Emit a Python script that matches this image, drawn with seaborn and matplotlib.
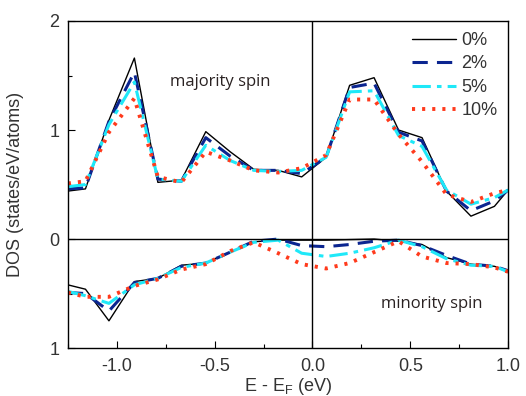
import matplotlib
matplotlib.use("Agg")
import matplotlib.pyplot as plt
from matplotlib.ticker import MultipleLocator, FuncFormatter
import pandas as pd
import seaborn as sns

sns.set_theme(style="white")
plt.rcParams["font.family"] = ["Liberation Sans", "DejaVu Sans"]
plt.rcParams["mathtext.fontset"] = "custom"
plt.rcParams["mathtext.rm"] = "Liberation Sans"

# energy grid (eV, relative to E_F)
energy = [-1.25, -1.16, -1.04, -0.91, -0.79, -0.67, -0.545, -0.42, -0.30, -0.175,
          -0.055, 0.07, 0.19, 0.315, 0.44, 0.56, 0.685, 0.81, 0.93, 1.0]

labels = ["0%", "2%", "5%", "10%"]

# majority spin DOS
up_0 = [0.44, 0.46, 1.09, 1.66, 0.52, 0.54, 0.985, 0.80, 0.64, 0.63,
        0.57, 0.75, 1.41, 1.48, 1.00, 0.93, 0.44, 0.21, 0.30, 0.45]
up_2 = [0.46, 0.47, 1.08, 1.53, 0.55, 0.53, 0.93, 0.76, 0.63, 0.63,
        0.60, 0.75, 1.39, 1.43, 0.98, 0.90, 0.44, 0.26, 0.35, 0.45]
up_5 = [0.48, 0.50, 1.05, 1.44, 0.55, 0.53, 0.86, 0.72, 0.63, 0.62,
        0.63, 0.75, 1.35, 1.36, 0.95, 0.85, 0.45, 0.32, 0.38, 0.45]
up_10 = [0.51, 0.53, 0.98, 1.29, 0.57, 0.52, 0.80, 0.72, 0.63, 0.61,
         0.65, 0.77, 1.28, 1.28, 0.96, 0.71, 0.41, 0.34, 0.42, 0.45]

# minority spin DOS (plotted downward)
dn_0 = [-0.42, -0.46, -0.75, -0.39, -0.36, -0.24, -0.22, -0.12, -0.025, -0.01,
        -0.01, -0.01, -0.005, 0.0, -0.02, -0.05, -0.17, -0.23, -0.25, -0.29]
dn_2 = [-0.49, -0.50, -0.66, -0.40, -0.36, -0.25, -0.22, -0.12, -0.02, 0.0,
        -0.06, -0.07, -0.05, -0.02, -0.01, -0.06, -0.15, -0.23, -0.25, -0.29]
dn_5 = [-0.48, -0.52, -0.59, -0.42, -0.36, -0.26, -0.22, -0.12, -0.03, -0.01,
        -0.13, -0.16, -0.13, -0.08, -0.01, -0.07, -0.18, -0.24, -0.25, -0.30]
dn_10 = [-0.49, -0.53, -0.53, -0.43, -0.37, -0.28, -0.23, -0.11, -0.03, -0.13,
         -0.23, -0.27, -0.22, -0.12, -0.02, -0.16, -0.22, -0.23, -0.26, -0.30]

styles = [
    dict(color="black", linestyle="-", linewidth=1.0),
    dict(color="#0b2590", linestyle=(0, (5, 3)), linewidth=2.2),
    dict(color="#1fe8f8", linestyle=(0, (6, 2, 1.5, 2)), linewidth=2.2),
    dict(color="#ff3a1c", linestyle=(0, (0.8, 1.8)), linewidth=2.8),
]

fig, ax = plt.subplots(figsize=(5.26, 3.96), dpi=100)
fig.subplots_adjust(left=0.129, right=0.966, bottom=0.121, top=0.947)

for label, up, dn, st in zip(labels, [up_0, up_2, up_5, up_10],
                             [dn_0, dn_2, dn_5, dn_10], styles):
    df_up = pd.DataFrame({"E": energy, "DOS": up})
    df_dn = pd.DataFrame({"E": energy, "DOS": dn})
    sns.lineplot(data=df_up, x="E", y="DOS", ax=ax, label=label, **st)
    sns.lineplot(data=df_dn, x="E", y="DOS", ax=ax, **st)

ax.axhline(0, color="black", linewidth=1.0)
ax.axvline(0, color="black", linewidth=1.0)

ax.set_xlim(-1.25, 1.0)
ax.set_ylim(-1, 2)
ax.xaxis.set_major_locator(MultipleLocator(0.5))
ax.xaxis.set_minor_locator(MultipleLocator(0.25))
ax.yaxis.set_major_locator(MultipleLocator(1))
ax.yaxis.set_minor_locator(MultipleLocator(0.5))
ax.xaxis.set_major_formatter(FuncFormatter(lambda v, p: f"{v:.1f}"))
ax.yaxis.set_major_formatter(FuncFormatter(lambda v, p: f"{abs(v):.0f}"))
ax.tick_params(which="both", direction="in", bottom=True, left=True,
               labelsize=13, colors="black", labelcolor="#333333")
ax.tick_params(axis="x", which="major", pad=7)
ax.tick_params(axis="y", which="major", pad=6)
ax.tick_params(which="major", length=5, width=0.8)
ax.tick_params(which="minor", length=3, width=0.8)
for sp in ax.spines.values():
    sp.set_color("black")
    sp.set_linewidth(1.0)

ax.set_xlabel("E - E$_\\mathregular{F}$ (eV)", fontsize=13, color="#333333", labelpad=1)
ax.set_ylabel("DOS (states/eV/atoms)", fontsize=13, color="#333333", labelpad=18)

ax.text(-0.73, 1.44, "majority spin", fontsize=12, family=["Open Sans", "DejaVu Sans"],
        color="#2a2222", va="center")
ax.text(0.35, -0.60, "minority spin", fontsize=12, family=["Open Sans", "DejaVu Sans"],
        color="#2a2222", va="center")

leg = ax.legend(loc="upper right", frameon=False, fontsize=13, handlelength=2.4,
                handletextpad=0.3, labelspacing=0.36, borderaxespad=0.2,
                labelcolor="#333333")

fig.savefig("out.png", dpi=100)
